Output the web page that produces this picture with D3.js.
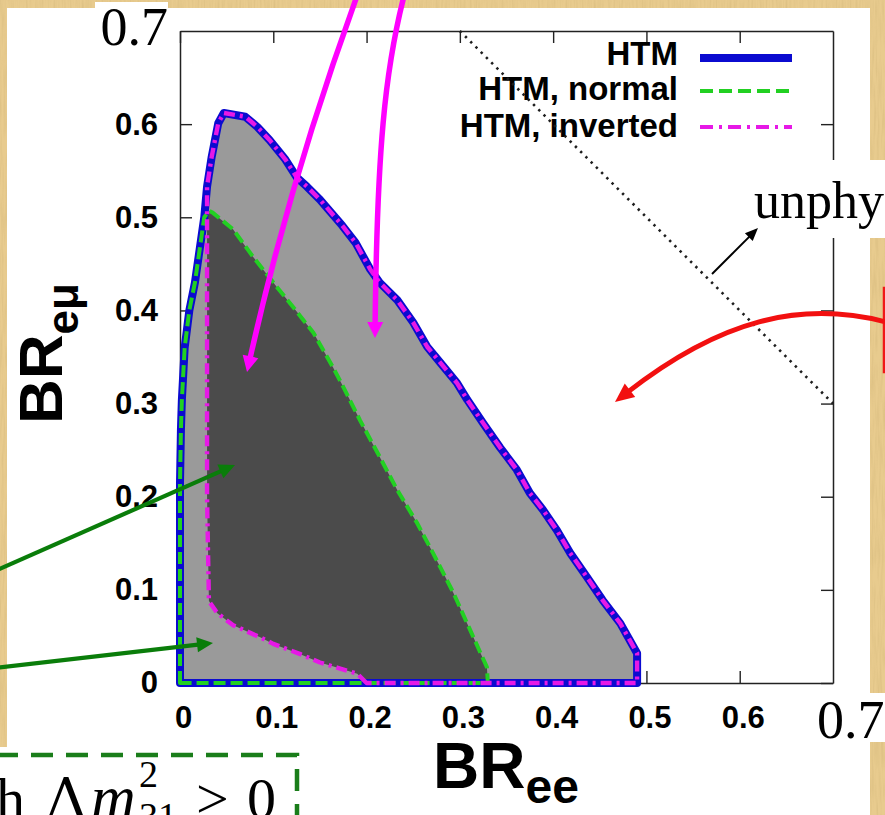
<!DOCTYPE html>
<html>
<head>
<meta charset="utf-8">
<script src="https://cdn.jsdelivr.net/npm/d3@7"></script>
<style>
  html, body { margin: 0; padding: 0; background: #fff; }
  svg { display: block; }
</style>
</head>
<body>
<svg id="chart" width="885" height="815"></svg>
<script>
// ---- data -------------------------------------------------------------
const xTicks = [0, 0.1, 0.2, 0.3, 0.4, 0.5, 0.6];
const yTicks = [0, 0.1, 0.2, 0.3, 0.4, 0.5, 0.6];
const edgeTickLabel = "0.7";
const legendNames = ["HTM", "HTM, normal", "HTM, inverted"];

// allowed region, both hierarchies together: [BR_ee, BR_emu]
const htmRegion = [
  [0, 0], [0, 0.215], [0.001, 0.272], [0.002, 0.304], [0.005, 0.36], [0.010, 0.40],
  [0.016, 0.43], [0.021, 0.465], [0.026, 0.50], [0.029, 0.533], [0.034, 0.565],
  [0.041, 0.601], [0.047, 0.612], [0.070, 0.608], [0.083, 0.597], [0.096, 0.583],
  [0.113, 0.562], [0.125, 0.543], [0.136, 0.533], [0.150, 0.519], [0.174, 0.491],
  [0.188, 0.473], [0.204, 0.444], [0.214, 0.430], [0.233, 0.411], [0.250, 0.387],
  [0.265, 0.361], [0.279, 0.344], [0.297, 0.322], [0.308, 0.304], [0.325, 0.279],
  [0.343, 0.253], [0.361, 0.229], [0.375, 0.204], [0.389, 0.186], [0.404, 0.164],
  [0.418, 0.140], [0.436, 0.114], [0.453, 0.089], [0.472, 0.064], [0.490, 0.032],
  [0.490, 0]
];

// normal hierarchy
const normalRegion = [
  [0, 0], [0, 0.215], [0.001, 0.272], [0.002, 0.304], [0.005, 0.36], [0.010, 0.40],
  [0.016, 0.43], [0.021, 0.465], [0.026, 0.50], [0.031, 0.507], [0.035, 0.505],
  [0.057, 0.487], [0.078, 0.458], [0.104, 0.425], [0.121, 0.404], [0.143, 0.376],
  [0.164, 0.339], [0.175, 0.318], [0.193, 0.282], [0.214, 0.243], [0.233, 0.207],
  [0.254, 0.172], [0.271, 0.140], [0.293, 0.097], [0.311, 0.057], [0.329, 0.017],
  [0.330, 0]
];

// inverted hierarchy
const invertedRegion = [
  [0.200, 0], [0.190, 0.010], [0.170, 0.016], [0.150, 0.022], [0.129, 0.031],
  [0.100, 0.042], [0.086, 0.049], [0.057, 0.062], [0.040, 0.075], [0.031, 0.088],
  [0.029, 0.20], [0.029, 0.35], [0.029, 0.45], [0.029, 0.51], [0.029, 0.533],
  [0.034, 0.565], [0.041, 0.601], [0.047, 0.612], [0.070, 0.608], [0.083, 0.597],
  [0.096, 0.583], [0.113, 0.562], [0.125, 0.543], [0.136, 0.533], [0.150, 0.519],
  [0.174, 0.491], [0.188, 0.473], [0.204, 0.444], [0.214, 0.430], [0.233, 0.411],
  [0.250, 0.387], [0.265, 0.361], [0.279, 0.344], [0.297, 0.322], [0.308, 0.304],
  [0.325, 0.279], [0.343, 0.253], [0.361, 0.229], [0.375, 0.204], [0.389, 0.186],
  [0.404, 0.164], [0.418, 0.140], [0.436, 0.114], [0.453, 0.089], [0.472, 0.064],
  [0.490, 0.032], [0.490, 0]
];

// kinematic bound BR_ee + BR_emu = 1
const boundLine = [[0.3, 0.7], [0.7, 0.3]];

// ---- setup ------------------------------------------------------------
const svg = d3.select("#chart");
const W = 885, H = 815;
const SANS = "'Liberation Sans', Arial, Helvetica, sans-serif";
const SERIF = "'Liberation Serif', 'Times New Roman', serif";

const x = d3.scaleLinear().domain([0, 0.7]).range([180, 833]);
const y = d3.scaleLinear().domain([0, 0.7]).range([683, 31]);

const styles = {
  htm:      { color: "#0b0bd0", width: 8,   dash: null },
  normal:   { color: "#22d022", width: 4,   dash: "12,5" },
  inverted: { color: "#e619e6", width: 4.4, dash: "11,5,3,5" }
};

const defs = svg.append("defs");

// parchment grain
const grain = defs.append("filter").attr("id", "grain")
  .attr("x", 0).attr("y", 0).attr("width", "100%").attr("height", "100%");
grain.append("feTurbulence").attr("type", "fractalNoise")
  .attr("baseFrequency", "0.5 0.03").attr("numOctaves", 2).attr("seed", 7);
grain.append("feColorMatrix").attr("type", "matrix")
  .attr("values", "0 0 0 0 0.62  0 0 0 0 0.45  0 0 0 0 0.18  0 0 0 1.4 -0.55");

defs.append("clipPath").attr("id", "clipInv")
  .append("path")
  .attr("d", d3.line().x(d => x(d[0])).y(d => y(d[1]))(invertedRegion) + "Z");

// ---- background ---------------------------------------------------------
svg.append("rect").attr("width", W).attr("height", H).attr("fill", "#e8cb8e");
svg.append("rect").attr("width", W).attr("height", H).attr("filter", "url(#grain)").attr("opacity", 0.6);
svg.append("rect").attr("x", 7).attr("y", 8).attr("width", 863).attr("height", H - 8).attr("fill", "#fff");
svg.append("rect").attr("x", 0).attr("y", 747).attr("width", 300).attr("height", H - 747).attr("fill", "#fff");

// ---- regions ------------------------------------------------------------
const line = d3.line().x(d => x(d[0])).y(d => y(d[1]));
const closed = pts => line(pts) + "Z";

const plot = svg.append("g");
plot.append("path").attr("d", closed(htmRegion)).attr("fill", "#9a9a9a");
plot.append("path").attr("d", closed(normalRegion)).attr("fill", "#4b4b4b")
  .attr("clip-path", "url(#clipInv)");

// ---- axes ---------------------------------------------------------------
const fmt = d3.format("~g");
const axisStyle = g => {
  g.select(".domain").attr("stroke", "#222").attr("stroke-width", 1.5);
  g.selectAll(".tick line").attr("stroke", "#222").attr("stroke-width", 1.4);
  g.selectAll(".tick text").attr("font-family", SANS).attr("font-size", 31)
    .attr("font-weight", "bold").attr("fill", "#000");
};

const gx = svg.append("g").attr("transform", `translate(0,${y(0)})`)
  .call(d3.axisBottom(x).tickValues(xTicks).tickSizeInner(-12).tickSizeOuter(0)
    .tickPadding(23).tickFormat(fmt))
  .call(axisStyle);
gx.selectAll(".tick text").attr("dx", 3);

svg.append("g").attr("transform", `translate(${x(0)},0)`)
  .call(d3.axisLeft(y).tickValues(yTicks).tickSizeInner(-12).tickSizeOuter(0)
    .tickPadding(22).tickFormat(fmt))
  .call(axisStyle);

svg.append("g").attr("transform", `translate(0,${y(0.7)})`)
  .call(d3.axisTop(x).tickValues(xTicks).tickSizeInner(-12).tickSizeOuter(0).tickFormat(""))
  .call(axisStyle);

svg.append("g").attr("transform", `translate(${x(0.7)},0)`)
  .call(d3.axisRight(y).tickValues(yTicks).tickSizeInner(-12).tickSizeOuter(0).tickFormat(""))
  .call(axisStyle);

// ---- region outlines ----------------------------------------------------
const outline = (pts, s) => plot.append("path").attr("d", closed(pts))
  .attr("fill", "none").attr("stroke", s.color).attr("stroke-width", s.width)
  .attr("stroke-linejoin", "round")
  .attr("stroke-dasharray", s.dash);
svg.append(() => plot.node());
outline(htmRegion, styles.htm);
outline(normalRegion, styles.normal);
outline(invertedRegion, styles.inverted);

// ---- legend -------------------------------------------------------------
const legend = svg.append("g");
const legendStyles = [styles.htm, styles.normal, styles.inverted];
const legendBase = [65, 100, 137];
const legendLineY = [58, 91, 127];
legendNames.forEach((name, i) => {
  legend.append("text").attr("x", 678).attr("y", legendBase[i])
    .attr("text-anchor", "end").attr("font-family", SANS).attr("font-weight", "bold")
    .attr("font-size", 33).attr("fill", "#000").text(name);
  const s = legendStyles[i];
  legend.append("line").attr("x1", 700).attr("x2", 792)
    .attr("y1", legendLineY[i]).attr("y2", legendLineY[i])
    .attr("stroke", s.color).attr("stroke-width", i === 0 ? 8 : 4)
    .attr("stroke-dasharray", i === 1 ? "13,6" : i === 2 ? "13,6,3,6" : null);
});

// ---- bound line ---------------------------------------------------------
svg.append("path").attr("d", line(boundLine)).attr("fill", "none")
  .attr("stroke", "#1e1e1e").attr("stroke-width", 2.6).attr("stroke-dasharray", "2.4,5");

// ---- axis titles --------------------------------------------------------
const xt = svg.append("text").attr("x", 433).attr("y", 788)
  .attr("font-family", SANS).attr("font-weight", "bold").attr("font-size", 64).attr("fill", "#000");
xt.append("tspan").text("BR");
xt.append("tspan").attr("font-size", 48).attr("dy", 15).text("ee");

const yt = svg.append("text").attr("transform", "translate(62,424) rotate(-90)")
  .attr("font-family", SANS).attr("font-weight", "bold").attr("font-size", 62).attr("fill", "#000");
yt.append("tspan").text("BR");
yt.append("tspan").attr("font-size", 44).attr("dy", 16).text("eμ");

// ---- 0.7 edge labels ------------------------------------------------------
svg.append("rect").attr("x", 95).attr("y", 2).attr("width", 73).attr("height", 48).attr("fill", "#fff");
svg.append("text").attr("x", x(0) - 12).attr("y", y(0.7) + 14).attr("text-anchor", "end")
  .attr("font-family", SERIF).attr("font-size", 54).attr("fill", "#000").text(edgeTickLabel);
svg.append("rect").attr("x", 812).attr("y", 693).attr("width", 73).attr("height", 49).attr("fill", "#fff");
svg.append("text").attr("x", x(0.7) - 16).attr("y", y(0) + 55)
  .attr("font-family", SERIF).attr("font-size", 54).attr("fill", "#000").text(edgeTickLabel);

// ---- annotations --------------------------------------------------------
const ann = svg.append("g");
function arrow(pathFn, tip, from, color, width, headLen, headW) {
  const dx = tip[0] - from[0], dy = tip[1] - from[1], len = Math.hypot(dx, dy);
  const ux = dx / len, uy = dy / len;
  const base = [tip[0] - ux * headLen * 0.8, tip[1] - uy * headLen * 0.8];
  const hb = [tip[0] - ux * headLen, tip[1] - uy * headLen];
  ann.append("path").attr("d", pathFn(base)).attr("fill", "none")
    .attr("stroke", color).attr("stroke-width", width);
  ann.append("path")
    .attr("d", `M${tip[0]},${tip[1]}L${hb[0] - uy * headW / 2},${hb[1] + ux * headW / 2}` +
               `L${hb[0] + uy * headW / 2},${hb[1] - ux * headW / 2}Z`)
    .attr("fill", color);
}

// "unphysical" label box
ann.append("rect").attr("x", 748).attr("y", 160).attr("width", 137).attr("height", 78).attr("fill", "#fff");
ann.append("text").attr("x", 754).attr("y", 218).attr("font-family", SERIF)
  .attr("font-size", 52).attr("fill", "#000").text("unphy");
arrow(e => `M712,274L${e[0]},${e[1]}`, [758, 228], [712, 274], "#000", 2, 13, 11);

// red box edge and arrow
ann.append("path").attr("d", "M890,288H884V372H890").attr("fill", "none")
  .attr("stroke", "#f01818").attr("stroke-width", 2.5);
arrow(e => `M886,322C800,300 720,320 ${e[0]},${e[1]}`, [615, 402], [720, 320], "#f21010", 5, 19, 17);

// magenta arrows
arrow(e => `M357,-4Q290,180 ${e[0]},${e[1]}`, [247, 372], [290, 180], "#ff00ff", 5.5, 16, 16);
arrow(e => `M404,-4C385,70 377,150 ${e[0]},${e[1]}`, [375, 338], [377, 150], "#ff00ff", 5.5, 16, 16);

// green arrows
arrow(e => `M-5,571L${e[0]},${e[1]}`, [235, 465], [-5, 571], "#0a7d0a", 4.2, 16, 15);
arrow(e => `M-5,668L${e[0]},${e[1]}`, [213, 643], [-5, 668], "#0a7d0a", 4.2, 16, 15);

// dashed green box with condition text
ann.append("path").attr("d", "M-4,755H297V820").attr("fill", "none")
  .attr("stroke", "#1a7d1a").attr("stroke-width", 4.5).attr("stroke-dasharray", "22,13");
const cond = ann.append("text").attr("y", 818).attr("font-family", SERIF)
  .attr("font-size", 58).attr("fill", "#000");
cond.append("tspan").attr("x", -4).text("h");
cond.append("tspan").attr("x", 46).attr("font-family", "'DejaVu Serif', serif").attr("font-size", 56).text("Δ");
cond.append("tspan").attr("x", 91).attr("font-style", "italic").attr("font-size", 62).text("m");
cond.append("tspan").attr("x", 139).attr("y", 787).attr("font-size", 38).text("2");
cond.append("tspan").attr("x", 139).attr("y", 829).attr("font-size", 38).text("31");
cond.append("tspan").attr("x", 196).attr("y", 818).text(">");
cond.append("tspan").attr("x", 247).text("0");
</script>
</body>
</html>
